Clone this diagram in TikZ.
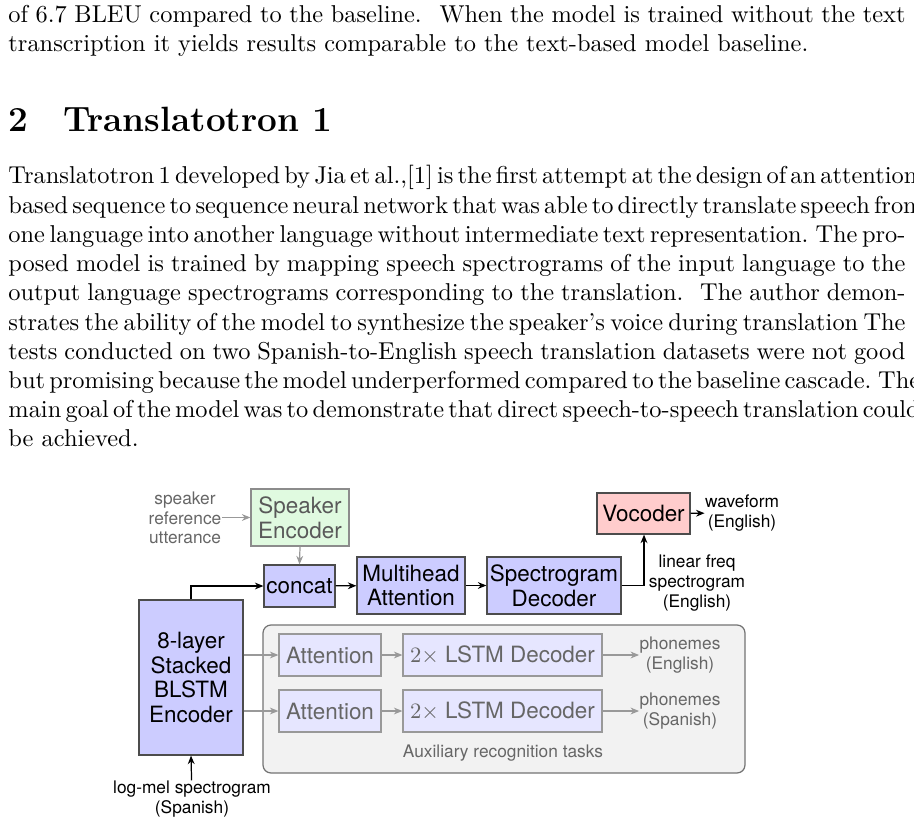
\documentclass[tikz,border=0pt]{standalone}
\usepackage{fontspec}
\setsansfont{TeX Gyre Heros}
\usetikzlibrary{arrows.meta}
\def\p{0.41pt}
\newcommand{\mysp}{\spaceskip=3.33pt plus 3pt minus 1.6pt\relax\xspaceskip=4.4pt plus 3pt minus 1.6pt\relax}
\begin{document}
\begin{tikzpicture}[x=0.41pt,y=-0.41pt,
  txt/.style={inner sep=0pt,anchor=base west,font=\fontsize{10}{12}\selectfont\mysp},
  box/.style={draw=black!70,line width=0.5pt,inner sep=1pt,align=center,font=\sffamily\fontsize{9.2}{10.2}\selectfont},
  blue/.style={box,fill={rgb,255:red,204;green,204;blue,255}},
  aux/.style={box,draw=black!40,fill={rgb,255:red,230;green,230;blue,255},text=black!60},
  lbl/.style={inner sep=0pt,align=center,font=\sffamily\fontsize{7.1}{8.1}\selectfont},
  arr/.style={-{Stealth[length=3.5pt,width=2.8pt]},line width=0.5pt},
  garr/.style={arr,draw=black!40}]
\useasboundingbox (0,0) rectangle (914,823);
% text
\def\W{367.8pt}
\node[txt] (l1) at (8,23) {\makebox[\W][s]{of 6.7 BLEU compared to the baseline. \ When the model is trained without the text}};
\node[txt] (l2) at (8,52) {transcription it yields results comparable to the text-based model baseline.};
\node[txt,font=\Large\bfseries] (h) at (8,132) {2\hspace{1.0em}Translatotron 1};
\node[txt] (p1) at (8,184) {\makebox[\W][s]{Translatotron 1 developed by Jia et al.,[1] is the first attempt at the design of an attention-}};
\node[txt] (p2) at (8,213.2) {\makebox[\W][s]{based sequence to sequence neural network that was able to directly translate speech from}};
\node[txt] (p3) at (8,242.4) {\makebox[\W][s]{one language into another language without intermediate text representation. The pro-}};
\node[txt] (p4) at (8,271.6) {\makebox[\W][s]{posed model is trained by mapping speech spectrograms of the input language to the}};
\node[txt] (p5) at (8,300.8) {\makebox[\W][s]{output language spectrograms corresponding to the translation. \ The author demon-}};
\node[txt] (p6) at (8,330) {\makebox[\W][s]{strates the ability of the model to synthesize the speaker's voice during translation The}};
\node[txt] (p7) at (8,359.2) {\makebox[\W][s]{tests conducted on two Spanish-to-English speech translation datasets were not good}};
\node[txt] (p8) at (8,388.4) {\makebox[\W][s]{but promising because the model underperformed compared to the baseline cascade. The}};
\node[txt] (p9) at (8,417.6) {\makebox[\W][s]{main goal of the model was to demonstrate that direct speech-to-speech translation could}};
\node[txt] (p10) at (8,446.8) {be achieved.};
% diagram
\draw[draw=black!55,fill=black!5,rounded corners=8*\p,line width=0.5pt] (263,625) rectangle (745,773);
\node[box,draw=black!45,fill={rgb,255:red,224;green,250;blue,224},text=black!65,minimum width=98*\p,minimum height=57*\p] (spk) at (300,517.5) {Speaker\\Encoder};
\node[blue,minimum width=71*\p,minimum height=42*\p] (cc) at (299.5,586) {concat};
\node[blue,minimum width=108*\p,minimum height=57*\p] (mha) at (411,585.5) {Multihead\\Attention};
\node[blue,minimum width=134*\p,minimum height=57*\p] (sd) at (554,585.5) {Spectrogram\\Decoder};
\node[box,fill={rgb,255:red,255;green,204;blue,204},minimum width=93*\p,minimum height=41*\p] (voc) at (643.5,513.5) {Vocoder};
\node[blue,minimum width=104*\p,minimum height=155*\p] (enc) at (191,677.5) {8-layer\\Stacked\\BLSTM\\Encoder};
\node[aux,minimum width=102*\p,minimum height=42*\p] (a1) at (330,655) {Attention};
\node[aux,minimum width=199*\p,minimum height=42*\p] (d1) at (502.5,655) {$2\times$ LSTM Decoder};
\node[aux,minimum width=102*\p,minimum height=42*\p] (a2) at (330,711) {Attention};
\node[aux,minimum width=199*\p,minimum height=42*\p] (d2) at (502.5,711) {$2\times$ LSTM Decoder};
\node[lbl,text=black!60] (ph1) at (680,655) {phonemes\\(English)};
\node[lbl,text=black!60] (ph2) at (680,711) {phonemes\\(Spanish)};
\node[lbl,text=black!60] (auxl) at (503,753) {Auxiliary recognition tasks};
\node[lbl] (lm) at (192,799) {log-mel spectrogram\\(Spanish)};
\node[lbl,text=black!60] (sr) at (185,518) {speaker\\reference\\utterance};
\node[lbl] (wf) at (742,513) {waveform\\(English)};
\node[lbl] (lf) at (697,583) {linear freq\\spectrogram\\(English)};
\coordinate (sdc) at (644,585.5);
% arrows
\draw[garr] (sr.east |- spk.west) -- (spk.west);
\draw[garr] (spk.south) -- (cc.north);
\draw[arr] (enc.north) |- (cc.west);
\draw[arr] (cc) -- (mha);
\draw[arr] (mha) -- (sd);
\draw[arr] (sd.east) -- (sdc) -- (sdc |- voc.south);
\draw[arr] (voc) -- (wf);
\draw[arr] (lm) -- (enc.south);
\draw[garr] (enc.east |- a1) -- (a1);
\draw[garr] (enc.east |- a2) -- (a2);
\draw[garr] (a1) -- (d1);
\draw[garr] (a2) -- (d2);
\draw[garr] (d1) -- (ph1);
\draw[garr] (d2) -- (ph2);
\end{tikzpicture}
\end{document}
